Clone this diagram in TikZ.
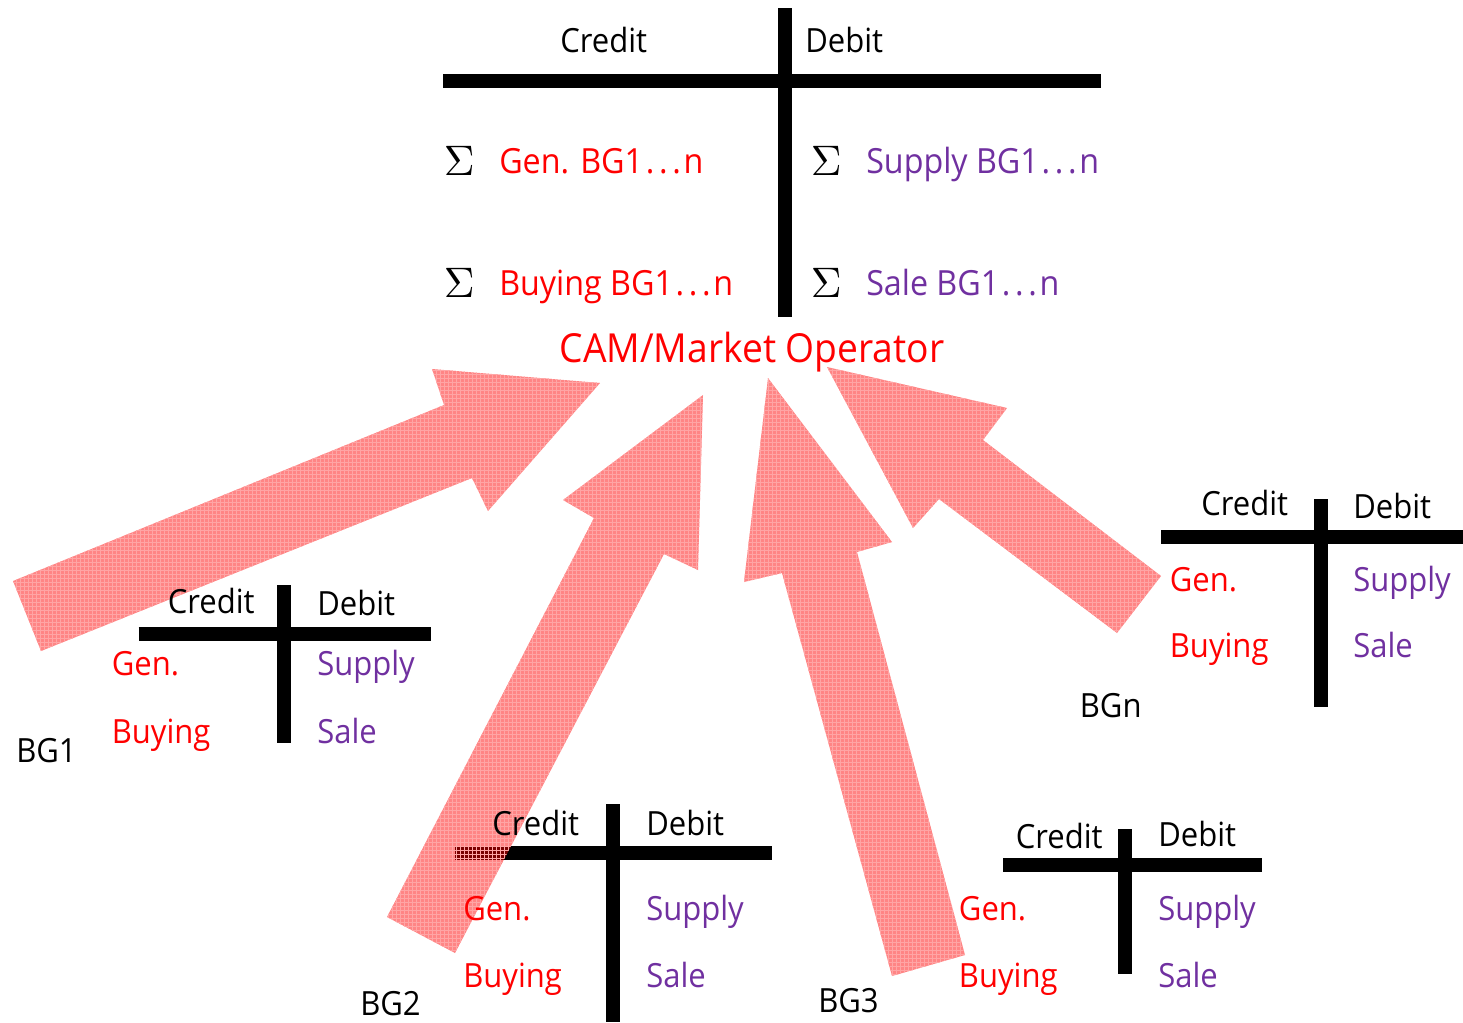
\documentclass[tikz,border=0pt]{standalone}
\usepackage[no-math]{fontspec}
\setmainfont{Open Sans}[FakeStretch=0.93]
\usetikzlibrary{patterns}
\definecolor{genred}{RGB}{255,0,0}
\definecolor{supplypurple}{RGB}{112,48,160}
\definecolor{flowline}{RGB}{255,165,165}
% spaced ellipsis for the summed balance-group ranges
\newcommand\grpdots{\kern2pt.\kern3.5pt.\kern3.5pt.\kern2pt}
\begin{document}
\begin{tikzpicture}[x=0.75pt,y=-0.75pt,
  tbar/.style={line width=10.5pt},
  lbl/.style={anchor=base west, inner sep=0pt, font=\fontsize{25}{30}\selectfont},
  big/.style={anchor=base west, inner sep=0pt, font=\fontsize{26}{31}\selectfont},
  cr/.style={lbl, text=genred},
  db/.style={lbl, text=supplypurple},
  sig/.style={anchor=base west, inner sep=0pt, scale=3.2},
  flow/.style={fill=red, fill opacity=0.48, draw=none},
  flowgrid/.style={pattern=grid, pattern color=flowline}]
\useasboundingbox (0,0) rectangle (1463,1022);

% T-account bars: central account
\draw[tbar] (443,81) -- (1101,81);
\draw[tbar] (784.5,8) -- (784.5,317);
% BG1
\draw[tbar] (138.6,633.7) -- (430.7,633.7);
\draw[tbar] (284,585) -- (284,743);
% BG2
\draw[tbar] (455,853) -- (772,853);
\draw[tbar] (613,804) -- (613,1022);
% BG3
\draw[tbar] (1003,865) -- (1262,865);
\draw[tbar] (1125,829) -- (1125,974);
% BGn
\draw[tbar] (1161,536.5) -- (1463,536.5);
\draw[tbar] (1320.6,499) -- (1320.6,707);

% block arrows from the balance groups to the market operator
\foreach \shape in {
  {(13,581) -- (444,405) -- (432,369) -- (600,383) -- (488,511) -- (472,478) -- (41,651) -- cycle},
  {(387,917) -- (594,518) -- (563,500) -- (703,395) -- (698,570) -- (664,554) -- (455,953) -- cycle},
  {(892,976) -- (782,573) -- (744,582) -- (768,378) -- (892,542) -- (857,552) -- (965,955) -- cycle},
  {(1161,576) -- (983,440) -- (1007,408) -- (827,367) -- (913,528) -- (939,499) -- (1117,633) -- cycle}}
{
  \path[flow] \shape;
  \path[flowgrid] \shape;
}

% central account texts
\node[lbl] (mcredit) at (560,52) {Credit};
\node[lbl] (mdebit) at (805,52) {Debit};
\node[sig] (s1) at (443,175) {$\Sigma$};
\node[big, text=genred] (mgen) at (499,173) {Gen. BG1\grpdots n};
\node[sig] (s2) at (810,175) {$\Sigma$};
\node[big, text=supplypurple] (msupply) at (866,173) {Supply BG1\grpdots n};
\node[sig] (s3) at (443,297) {$\Sigma$};
\node[big, text=genred] (mbuying) at (499,295) {Buying BG1\grpdots n};
\node[sig] (s4) at (810,297) {$\Sigma$};
\node[big, text=supplypurple] (msale) at (866,295) {Sale BG1\grpdots n};
\node[anchor=base, inner sep=0pt, text=genred, font=\fontsize{30}{36}\selectfont] (cam) at (752,362) {CAM/Market Operator};

% BG1
\node[lbl] (c1) at (167.6,613) {Credit};
\node[lbl] (d1) at (317,615) {Debit};
\node[cr] (g1) at (111.6,675) {Gen.};
\node[db] (p1) at (317,675) {Supply};
\node[cr] (b1) at (111.6,743) {Buying};
\node[db] (a1) at (317,743) {Sale};
\node[lbl] (n1) at (16,762) {BG1};

% BG2
\node[lbl] (c2) at (492,835) {Credit};
\node[lbl] (d2) at (646,835) {Debit};
\node[cr] (g2) at (463,920) {Gen.};
\node[db] (p2) at (646,920) {Supply};
\node[cr] (b2) at (463,987) {Buying};
\node[db] (a2) at (646,987) {Sale};
\node[lbl] (n2) at (360,1015) {BG2};

% BG3
\node[lbl] (c3) at (1015.6,848) {Credit};
\node[lbl] (d3) at (1158,846) {Debit};
\node[cr] (g3) at (958.7,920) {Gen.};
\node[db] (p3) at (1158,920) {Supply};
\node[cr] (b3) at (958.7,987) {Buying};
\node[db] (a3) at (1158,987) {Sale};
\node[lbl] (n3) at (818,1012) {BG3};

% BGn
\node[lbl] (cn) at (1201,515) {Credit};
\node[lbl] (dn) at (1353,518) {Debit};
\node[cr] (gn) at (1169.6,591) {Gen.};
\node[db] (pn) at (1353,591) {Supply};
\node[cr] (bn) at (1169.6,657) {Buying};
\node[db] (an) at (1353,657) {Sale};
\node[lbl] (nn) at (1079.6,717) {BGn};
\end{tikzpicture}
\end{document}
